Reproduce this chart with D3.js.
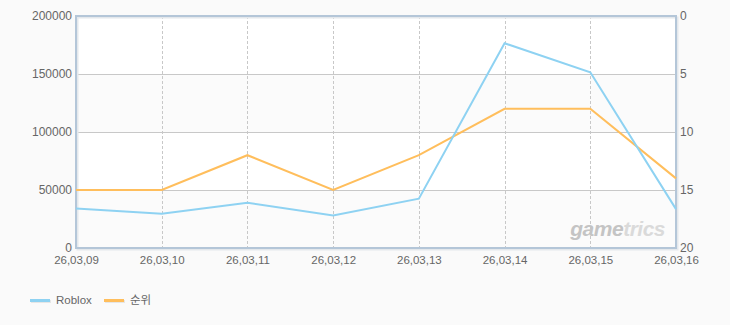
<!DOCTYPE html>
<html>
<head>
<meta charset="utf-8">
<script src="https://cdn.jsdelivr.net/npm/d3@7"></script>
<style>
  body { margin: 0; background: #fafafa; }
  svg { display: block; font-family: "Liberation Sans", "Noto Sans CJK KR", sans-serif; }
</style>
</head>
<body>
<svg width="730" height="325"></svg>
<script>
// data
var dates = ["26,03,09", "26,03,10", "26,03,11", "26,03,12", "26,03,13", "26,03,14", "26,03,15", "26,03,16"]
var roblox = [34000, 29500, 39000, 28000, 42500, 176500, 151500, 33500]
var rank = [15, 15, 12, 15, 12, 8, 8, 14]
var leftTicks = [0, 50000, 100000, 150000, 200000]
var rightTicks = [0, 5, 10, 15, 20]

var m = {top: 16, right: 54, bottom: 77, left: 76}
var width = 730, height = 325
var svg = d3.select("svg")

var x = d3.scalePoint().domain(dates).range([m.left, width - m.right])
var y = d3.scaleLinear().domain([0, 200000]).range([height - m.bottom, m.top])
var y2 = d3.scaleLinear().domain([0, 20]).range([m.top, height - m.bottom])

// plot background with alternating bands
svg.append("rect")
    .attr("x", m.left).attr("y", m.top)
    .attr("width", width - m.left - m.right).attr("height", height - m.top - m.bottom)
    .attr("fill", "#ffffff")
for (var i = 0; i < leftTicks.length - 1; i += 2) {
    svg.append("rect")
        .attr("x", m.left).attr("y", y(leftTicks[i + 1]))
        .attr("width", width - m.left - m.right)
        .attr("height", y(leftTicks[i]) - y(leftTicks[i + 1]))
        .attr("fill", "#fbfbfb")
}

// horizontal grid
svg.append("g").selectAll("line")
    .data(leftTicks.slice(1, -1))
    .enter().append("line")
    .attr("x1", m.left).attr("x2", width - m.right)
    .attr("y1", d => y(d) + 0.5).attr("y2", d => y(d) + 0.5)
    .attr("stroke", "#c8c8c8")

// vertical dashed grid
svg.append("g").selectAll("line")
    .data(dates.slice(1, -1))
    .enter().append("line")
    .attr("x1", d => Math.round(x(d)) + 0.5).attr("x2", d => Math.round(x(d)) + 0.5)
    .attr("y1", m.top).attr("y2", height - m.bottom)
    .attr("stroke", "#c8c8c8")
    .attr("stroke-dasharray", "3,2")

// frame with soft shadow
svg.append("rect")
    .attr("x", m.left + 1.5).attr("y", m.top + 1.5)
    .attr("width", width - m.left - m.right).attr("height", height - m.top - m.bottom)
    .attr("fill", "none").attr("stroke", "#e4e8ec").attr("stroke-width", 2)
svg.append("rect")
    .attr("x", m.left).attr("y", m.top)
    .attr("width", width - m.left - m.right).attr("height", height - m.top - m.bottom)
    .attr("fill", "none").attr("stroke", "#b4c6d8").attr("stroke-width", 2)

// watermark
var wm = svg.append("text")
    .attr("x", 665).attr("y", 236)
    .attr("text-anchor", "end")
    .attr("font-size", 21).attr("font-weight", "bold").attr("font-style", "italic")
    .attr("letter-spacing", -0.5)
wm.append("tspan").attr("fill", "#c4c4c4").text("game")
wm.append("tspan").attr("fill", "#dadada").text("trics")

// lines
var line = d3.line().x((d, i) => x(dates[i])).y(d => y(d))
var line2 = d3.line().x((d, i) => x(dates[i])).y(d => y2(d))

svg.append("path").datum(rank)
    .attr("d", line2).attr("fill", "none")
    .attr("stroke", "#ffbe5c").attr("stroke-width", 2)
svg.append("path").datum(roblox)
    .attr("d", line).attr("fill", "none")
    .attr("stroke", "#8ed2f2").attr("stroke-width", 2)

// axes labels
var yl = svg.append("g").call(d3.axisLeft(y).tickValues(leftTicks).tickFormat(d3.format("d")).tickSize(0).tickPadding(4))
    .attr("transform", "translate(" + m.left + ",0)")
yl.select(".domain").remove()
yl.selectAll("text").attr("font-size", 12).attr("fill", "#666").attr("font-family", null)

var yr = svg.append("g").call(d3.axisRight(y2).tickValues(rightTicks).tickSize(0).tickPadding(4))
    .attr("transform", "translate(" + (width - m.right) + ",0)")
yr.select(".domain").remove()
yr.selectAll("text").attr("font-size", 12).attr("fill", "#666").attr("font-family", null)

var xa = svg.append("g").call(d3.axisBottom(x).tickSize(0).tickPadding(8))
    .attr("transform", "translate(0," + (height - m.bottom) + ")")
xa.select(".domain").remove()
xa.selectAll("text").attr("font-size", 11.5).attr("fill", "#666").attr("font-family", null)

// legend
var legend = [{name: "Roblox", color: "#8ed2f2"}, {name: "순위", color: "#ffbe5c"}]
var lg = svg.append("g").selectAll("g").data(legend).enter().append("g")
    .attr("transform", (d, i) => "translate(" + (30 + i * 74) + ",300)")
lg.append("rect").attr("x", 1).attr("y", 0).attr("width", 20).attr("height", 3).attr("fill", "#e6e6e6")
lg.append("rect").attr("x", 0).attr("y", -1).attr("width", 20).attr("height", 3).attr("fill", d => d.color)
lg.append("text").attr("x", 26).attr("y", 4)
    .attr("font-size", 11.5).attr("fill", "#666")
    .text(d => d.name)
</script>
</body>
</html>
